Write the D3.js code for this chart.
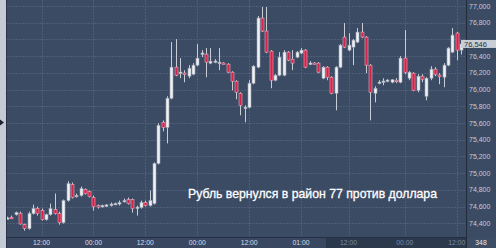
<!DOCTYPE html>
<html>
<head>
<meta charset="utf-8">
<script src="https://cdn.jsdelivr.net/npm/d3@7"></script>
<style>
  body { margin: 0; background: #3c4b64; }
  svg { display: block; font-family: "Liberation Sans", Arial, sans-serif; }
</style>
</head>
<body>
<div id="chart"></div>
<script>
// hourly USD/RUB candles
var opens  = [74462,74472,74504,74520,74384,74336,74516,74576,74552,74444,74504,74564,74516,74408,74672,74864,74730,74732,74804,74780,
              74708,74612,74612,74616,74612,74634,74636,74670,74684,74684,74576,74588,74648,74612,74636,75116,75608,75548,75896,76268,
              76205,76198,76160,76184,76292,76432,76424,76316,76338,76316,76318,76304,76208,76100,75956,75786,75788,76076,76268,76856,
              76700,76460,76112,76172,76172,76448,76364,76388,76436,76472,76314,76318,76316,76136,76268,76148,75956,76268,76628,76472,
              76508,76568,76688,76628,76292,75956,76086,76098,76110,76088,76112,76088,76376,76136,76196,75992,76160,75920,76136,76244,
              76174,76148,76292,76448,76676,76472];
var highs  = [74480,74492,74540,74540,74396,74540,74624,74600,74576,74516,74636,74756,74540,74684,74904,74888,74756,74840,74816,74792,
              74732,74624,74624,74630,74648,74648,74672,74696,74708,74696,74612,74672,74672,74792,75128,75596,75632,75920,76568,76604,
              76376,76232,76292,76316,76544,76472,76496,76496,76364,76496,76328,76316,76220,76112,75968,75812,76112,76292,76880,76988,
              76988,76472,76184,76448,76472,76460,76472,76460,76496,76484,76340,76328,76328,76280,76280,76160,76280,76544,76796,76676,
              76604,76736,76796,76640,76304,76040,76112,76136,76124,76124,76136,76400,76712,76220,76208,76184,76184,76148,76280,76268,
              76196,76316,76508,76736,76688,76592];
var lows   = [74444,74456,74492,74384,74312,74324,74504,74492,74432,74432,74492,74504,74384,74396,74660,74696,74708,74720,74744,74708,
              74552,74576,74588,74600,74600,74618,74612,74648,74624,74528,74492,74576,74600,74600,74624,75104,75500,75356,75884,76160,
              76136,76088,76136,76172,76280,76388,76148,76304,76316,76232,76304,76196,75992,75884,75692,75608,75776,76064,76256,76688,
              76436,76016,76100,76160,76160,76340,76232,76376,76424,76256,76292,76304,76196,76124,76112,75944,75752,76256,76496,76460,
              76292,76556,76616,76196,75632,75848,76064,76052,76088,76076,76076,76076,76184,76112,75980,75968,76088,75872,76112,76160,
              76064,76028,76280,76436,76352,76420];
var closes = [74465,74470,74528,74392,74336,74516,74576,74516,74444,74504,74576,74516,74408,74672,74876,74708,74735,74816,74756,74720,
              74600,74610,74614,74620,74630,74638,74648,74674,74636,74576,74594,74648,74612,74672,75116,75572,75548,75896,76268,76172,
              76210,76194,76256,76292,76376,76438,76328,76340,76342,76328,76314,76208,76100,75968,75812,75790,76076,76280,76856,76700,
              76448,76112,76172,76388,76448,76352,76316,76448,76472,76268,76318,76316,76208,76268,76148,75956,76268,76532,76508,76532,
              76592,76688,76628,76292,75968,76016,76090,76102,76114,76118,76110,76376,76208,76208,75992,76160,76124,76136,76244,76184,
              76170,76292,76496,76652,76472,76546];

var priceTicks = [74400,74600,74800,75000,75200,75400,75600,75800,76000,76200,76400,76600,76800,77000];
var timeTickIdx = [8,20,32,44,56,68,79,92,104];
var timeTickText = ["12:00","00:00","12:00","00:00","12:00","01:00","12:00","00:00","12:00"];
var lastPrice = 76546;
var volumeText = "348";
var title = "Рубль вернулся в район 77 против доллара";

var width = 496, height = 248,
    plotLeft = 7, plotRight = 466, plotBottom = 237;

var svg = d3.select("#chart").append("svg")
  .attr("width", width)
  .attr("height", height);

svg.append("rect").attr("width", width).attr("height", height).attr("fill", "#3c4b64");

var x = d3.scalePoint().domain(d3.range(opens.length)).range([7, 461]);
var y = d3.scaleLinear().domain([74400, 77000]).range([223.3, 6]);

// grid
var grid = svg.append("g").attr("class", "grid");
grid.selectAll(".hg").data(priceTicks).enter().append("line")
  .attr("x1", plotLeft).attr("x2", plotRight)
  .attr("y1", function(d) { return Math.round(y(d)) + 0.5; })
  .attr("y2", function(d) { return Math.round(y(d)) + 0.5; })
  .attr("stroke", "#4f5e78").attr("stroke-dasharray", "2,1");
grid.selectAll(".vg").data(timeTickIdx).enter().append("line")
  .attr("x1", function(d) { return Math.round(x(d)) + 0.5; })
  .attr("x2", function(d) { return Math.round(x(d)) + 0.5; })
  .attr("y1", 0).attr("y2", plotBottom)
  .attr("stroke", "#4f5e78").attr("stroke-dasharray", "2,1");

// candles
var candles = svg.append("g").attr("class", "candles");
var c = candles.selectAll("g").data(d3.range(opens.length)).enter().append("g");
c.append("line")
  .attr("x1", function(i) { return Math.round(x(i)) + 0.5; })
  .attr("x2", function(i) { return Math.round(x(i)) + 0.5; })
  .attr("y1", function(i) { return y(highs[i]); })
  .attr("y2", function(i) { return y(lows[i]); })
  .attr("stroke", "#c9ced6").attr("stroke-width", 1);
c.append("rect")
  .attr("x", function(i) { return Math.round(x(i)) - 1; })
  .attr("width", 3)
  .attr("y", function(i) { return y(Math.max(opens[i], closes[i])); })
  .attr("height", function(i) { return Math.max(1.5, Math.abs(y(opens[i]) - y(closes[i]))); })
  .attr("fill", function(i) { return closes[i] < opens[i] ? "#d4234b" : "#eef1f5"; })
  .attr("stroke", function(i) { return closes[i] < opens[i] ? "#f0a4b6" : "#9aa3b1"; })
  .attr("stroke-width", 0.6);

// left strip
svg.append("rect").attr("x", 0).attr("y", 0).attr("width", 6).attr("height", height).attr("fill", "#c4cbd6");
svg.append("line").attr("x1", 6.5).attr("x2", 6.5).attr("y1", 0).attr("y2", height).attr("stroke", "#2a3447");
svg.append("path").attr("d", "M0,119.5L4,122.5L0,125.5Z").attr("fill", "#1c2230");

// bottom time axis strip
svg.append("rect").attr("x", 7).attr("y", plotBottom).attr("width", 319).attr("height", height - plotBottom).attr("fill", "#394760");
svg.append("rect").attr("x", 326).attr("y", plotBottom).attr("width", plotRight - 326).attr("height", height - plotBottom).attr("fill", "#2c384c");
svg.append("line").attr("x1", 7).attr("x2", plotRight).attr("y1", plotBottom + 0.5).attr("y2", plotBottom + 0.5).attr("stroke", "#243044");
svg.selectAll(".tt").data(timeTickIdx).enter().append("text")
  .attr("x", function(d) { return x(d); })
  .attr("y", 245)
  .attr("text-anchor", "middle")
  .attr("font-size", 6.8)
  .attr("fill", function(d) { return x(d) > 326 ? "#7f8ba0" : "#d8dde4"; })
  .text(function(d, i) { return timeTickText[i]; });

// right price axis
svg.append("line").attr("x1", plotRight + 0.5).attr("x2", plotRight + 0.5).attr("y1", 0).attr("y2", height).attr("stroke", "#222b3a");
var fmt = d3.format(",");
svg.selectAll(".pt").data(priceTicks.filter(function(d) { return Math.abs(d - lastPrice) > 60; })).enter().append("text")
  .attr("x", 469)
  .attr("y", function(d) { return y(d) + 2.5; })
  .attr("font-size", 7)
  .attr("fill", "#c5ccd7")
  .text(function(d) { return fmt(d); });

// last price badge (covers the 76,600 label, as in the source)
svg.append("rect").attr("x", 461).attr("y", y(lastPrice) - 4).attr("width", 35).attr("height", 8).attr("fill", "#c9ced6");
svg.append("text").attr("x", 464).attr("y", y(lastPrice) + 2.6)
  .attr("font-size", 7.5).attr("fill", "#273142").text(fmt(lastPrice));

// volume box
svg.append("rect").attr("x", 467).attr("y", plotBottom + 1).attr("width", 29).attr("height", height - plotBottom - 1).attr("fill", "#3e4d66");
svg.append("text").attr("x", 481).attr("y", 245).attr("text-anchor", "middle")
  .attr("font-size", 6.8).attr("fill", "#e6eaf0").text(volumeText);

// caption
svg.append("text")
  .attr("x", 188).attr("y", 198)
  .attr("font-size", 13)
  .attr("fill", "#ffffff")
  .attr("stroke", "#ffffff")
  .attr("stroke-width", 0.3)
  .attr("textLength", 249)
  .attr("lengthAdjust", "spacingAndGlyphs")
  .text(title);
</script>
</body>
</html>
